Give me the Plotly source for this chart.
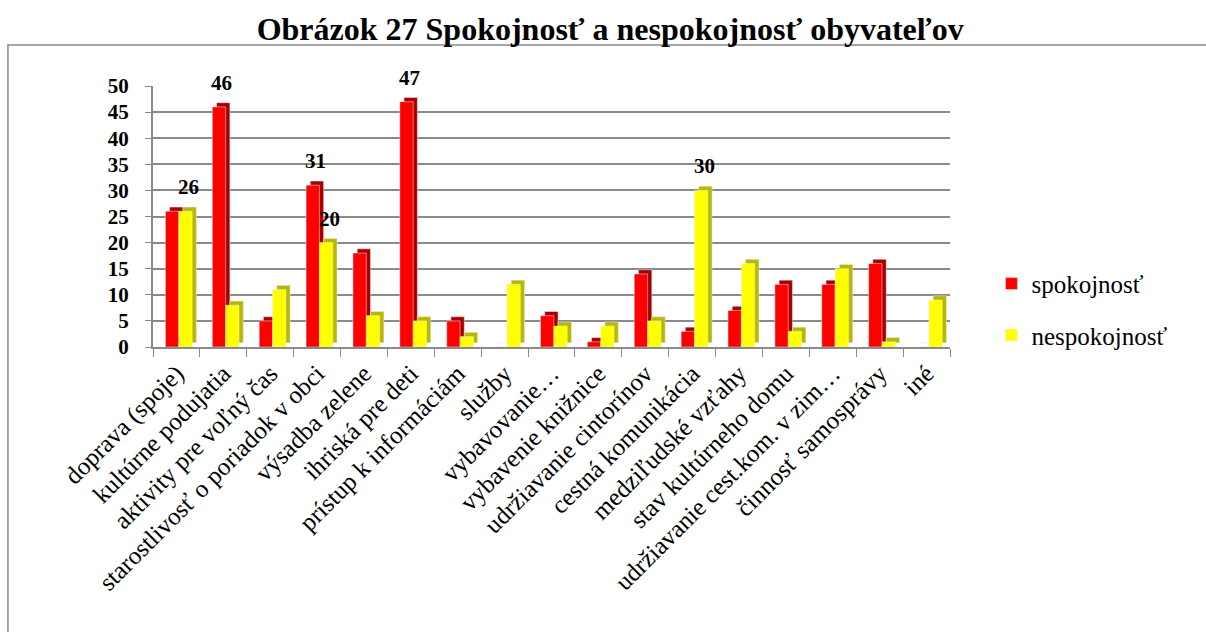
import plotly.graph_objects as go

# data
kategorie = ["doprava (spoje)", "kultúrne podujatia", "aktivity pre voľný čas",
             "starostlivosť o poriadok v obci", "výsadba zelene", "ihriská pre deti",
             "prístup k informáciám", "služby", "vybavovanie…", "vybavenie knižnice",
             "udržiavanie cintorínov", "cestná komunikácia", "medziľudské vzťahy",
             "stav kultúrneho domu", "udržiavanie cest.kom. v zim…", "činnosť samosprávy", "iné"]
spokojnost = [26, 46, 5, 31, 18, 47, 5, 0, 6, 1, 14, 3, 7, 12, 12, 16, 0]
nespokojnost = [26, 8, 11, 20, 6, 5, 2, 12, 4, 4, 5, 30, 16, 3, 15, 1, 9]
# which bars carry a value label
popisky_spok = [1, 3, 5]
popisky_nesp = [0, 3, 11]

serif = "Liberation Serif"
w = 0.285
off_red, off_yel = -0.235, -0.235 + w
hlbka_x, hlbka_y = 0.09, 0.8   # fake 3D depth

fig = go.Figure()
# dark "side" bars drawn first, then the front faces
fig.add_trace(go.Bar(x=kategorie, y=spokojnost, base=hlbka_y, width=w, offset=off_red + hlbka_x,
                     marker_color="#a80000", showlegend=False, hoverinfo="skip"))
fig.add_trace(go.Bar(x=kategorie, y=spokojnost, width=w, offset=off_red, name="spokojnosť",
                     marker_color="#ff0000", legendgroup="a"))
fig.add_trace(go.Bar(x=kategorie, y=nespokojnost, base=hlbka_y, width=w, offset=off_yel + hlbka_x,
                     marker_color="#b8b800", showlegend=False, hoverinfo="skip"))
fig.add_trace(go.Bar(x=kategorie, y=nespokojnost, width=w, offset=off_yel, name="nespokojnosť",
                     marker_color="#ffff00", legendgroup="b"))

anots = []
for i in popisky_spok:
    anots.append(dict(x=i + off_red + w / 2, y=spokojnost[i], text="<b>%d</b>" % spokojnost[i], showarrow=False,
                      yshift=24, xshift=3, font=dict(family=serif, size=21, color="black")))
for i in popisky_nesp:
    anots.append(dict(x=i + off_yel + w / 2, y=nespokojnost[i], text="<b>%d</b>" % nespokojnost[i], showarrow=False,
                      yshift=24, xshift=3, font=dict(family=serif, size=21, color="black")))

fig.update_layout(
    width=1206, height=632,
    paper_bgcolor="white", plot_bgcolor="white",
    font=dict(family=serif, color="black"),
    barmode="overlay",
    margin=dict(l=153, r=256, t=86, b=285),
    title=dict(text="<b>Obrázok 27 Spokojnosť a nespokojnosť obyvateľov</b>",
               font=dict(family=serif, size=32, color="black"),
               x=0.506, xanchor="center", y=0.955, yanchor="middle"),
    legend=dict(x=1.052, y=0.33, xanchor="left", yanchor="top",
                font=dict(family=serif, size=25, color="black"), tracegroupgap=16),
    annotations=anots,
    shapes=[dict(type="rect", xref="paper", yref="paper", x0=-0.182, x1=1.4, y0=-1.3, y1=1.157,
                 line=dict(color="#8a8a8a", width=1.5), layer="below")],
)
fig.update_xaxes(type="category", tickangle=-45, tickson="boundaries", ticks="outside", ticklen=8,
                 tickcolor="#8a8a8a", showline=True, linecolor="#8a8a8a", linewidth=2,
                 tickfont=dict(family=serif, size=25, color="black"), range=[-0.5, 16.5])
fig.update_yaxes(range=[0, 50], dtick=5, showgrid=True, gridcolor="#8a8a8a", gridwidth=2,
                 showline=True, linecolor="#8a8a8a", linewidth=2, ticks="outside", ticklen=6,
                 tickcolor="#8a8a8a", zeroline=False, tickprefix="<b>", ticksuffix="</b>",
                 ticklabelstandoff=12, tickfont=dict(family=serif, size=21, color="black"))

# page body has an 8px default margin, remove it so the figure sits at 0,0
fig.write_html("out.html", config={"displayModeBar": False},
               post_script="document.body.style.margin='0';")
